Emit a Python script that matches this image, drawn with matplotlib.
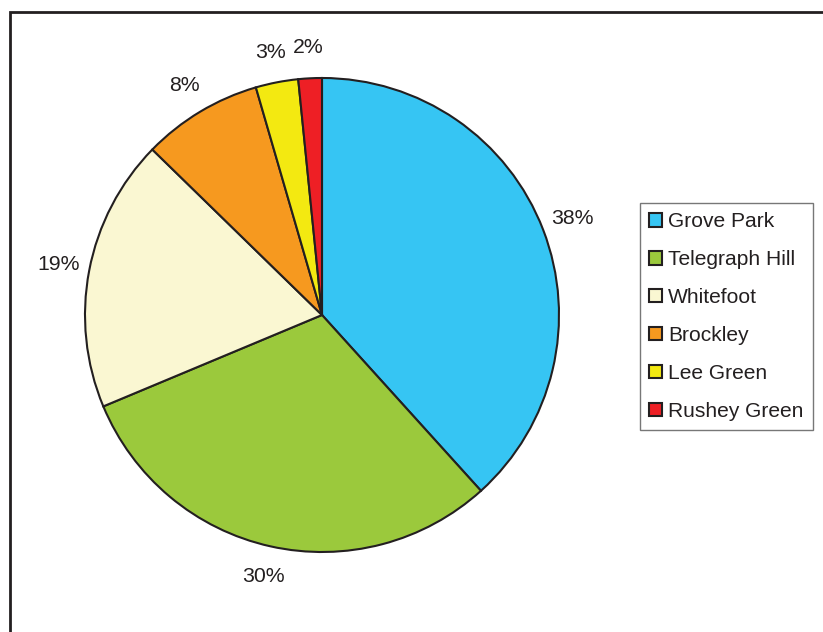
import matplotlib.pyplot as plt
from matplotlib.patches import Rectangle

# ward shares (%)
wards = ["Grove Park", "Telegraph Hill", "Whitefoot", "Brockley", "Lee Green", "Rushey Green"]
shares = [38.3, 30.4, 18.6, 8.2, 2.9, 1.6]
colours = ["#36C5F3", "#9BC93C", "#FAF7D2", "#F6991F", "#F3E911", "#EE1F25"]


def main():
    plt.rcParams['font.family'] = ['Liberation Sans', 'DejaVu Sans']
    plt.rcParams['text.color'] = '#231F20'

    fig = plt.figure(figsize=(8.23, 6.32), dpi=100)

    # outer frame, running off the right and bottom edges
    fig.patches.append(Rectangle((10 / 823, -0.1), 1.0, 1 - 11.5 / 632 + 0.1,
                                 transform=fig.transFigure, fill=False,
                                 edgecolor='#231F20', linewidth=2.0))

    cx, cy, r = 322, 315, 237
    ax = fig.add_axes([(cx - r) / 823, 1 - (cy + r) / 632, 2 * r / 823, 2 * r / 632])
    wedges, _, autotexts = ax.pie(shares, colors=colours, startangle=90, counterclock=False,
                                  autopct='%.0f%%', pctdistance=1.13,
                                  wedgeprops=dict(edgecolor='#231F20', linewidth=1.5),
                                  textprops=dict(fontsize=15.3, color='#231F20'))
    ax.set_xlim(-1, 1)
    ax.set_ylim(-1, 1)

    leg = fig.legend(wedges, wards, loc='upper left',
                     bbox_to_anchor=(640 / 823, 1 - 203 / 632), borderaxespad=0,
                     fontsize=15.1, fancybox=False, frameon=True,
                     handlelength=0.6, handleheight=0.6, handletextpad=0.3,
                     labelspacing=0.9, borderpad=0.45)
    leg.get_frame().set_edgecolor('#555555')
    leg.get_frame().set_linewidth(1.0)

    plt.savefig("out.png", dpi=100)


if __name__ == '__main__':
    main()
